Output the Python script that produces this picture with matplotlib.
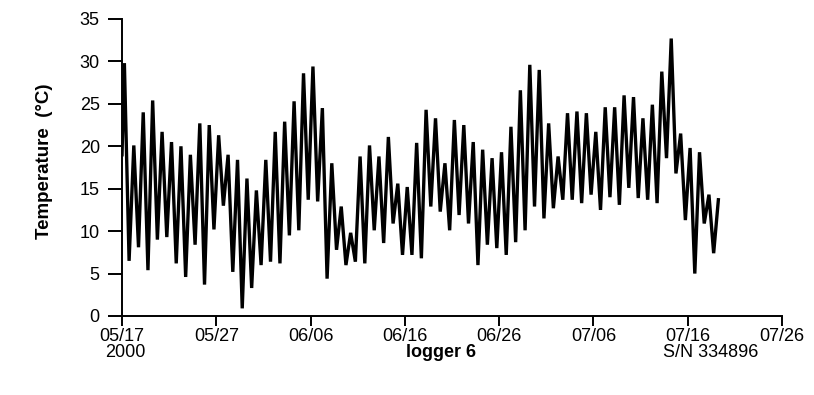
"""Logger 6 temperature trace, 05/17 - 07/19 2000."""
import matplotlib
matplotlib.use("Agg")
import numpy as np
import pandas as pd
from matplotlib import pyplot as plt

START = pd.Timestamp("2000-05-17")

# daily highs / lows (deg C), one per day starting 05/17
daily_max = [29.8, 20.1, 24.0, 25.4, 21.7, 20.5, 20.0, 19.0, 22.7, 22.5,
             21.3, 19.0, 18.4, 16.2, 14.8, 18.4, 21.7, 22.9, 25.3, 28.6,
             29.4, 24.5, 18.0, 12.9, 9.8, 18.8, 20.1, 18.8, 21.1, 15.6,
             15.2, 20.4, 24.3, 23.3, 18.0, 23.1, 22.5, 20.5, 19.6, 18.6,
             19.3, 22.3, 26.6, 29.6, 29.0, 22.7, 18.8, 23.9, 24.1, 23.9,
             21.7, 24.6, 24.6, 26.0, 25.8, 23.3, 24.9, 28.8, 32.7, 21.5,
             19.8, 19.3, 14.3, 13.7]
daily_min = [6.5, 8.1, 5.4, 9.0, 9.3, 6.2, 4.6, 8.4, 3.7, 10.2,
             13.0, 5.2, 0.9, 3.3, 6.0, 6.4, 6.2, 9.5, 10.1, 13.7,
             13.5, 4.4, 7.8, 6.0, 6.4, 6.2, 10.1, 8.6, 10.9, 7.2,
             7.2, 6.8, 12.9, 12.3, 10.1, 11.9, 10.9, 6.0, 8.4, 8.0,
             7.2, 8.7, 10.1, 12.9, 11.5, 12.7, 13.7, 13.7, 13.3, 14.3,
             12.5, 14.0, 13.1, 15.1, 13.9, 13.7, 13.3, 18.6, 16.8, 11.3,
             5.0, 10.9, 7.4]
first_reading = 19.0

tick_labels = ["05/17", "05/27", "06/06", "06/16", "06/26", "07/06", "07/16", "07/26"]
y_ticks = [0, 5, 10, 15, 20, 25, 30, 35]


def build_series():
    offsets = [0.0]
    temps = [first_reading]
    for day, hi in enumerate(daily_max):
        offsets.append(day + 0.25)
        temps.append(hi)
        if day < len(daily_min):
            offsets.append(day + 0.75)
            temps.append(daily_min[day])
    times = START + pd.to_timedelta(np.array(offsets), unit="D")
    return pd.Series(temps, index=times)


def main():
    plt.rcParams["font.family"] = ["Liberation Sans", "DejaVu Sans"]
    series = build_series()

    fig = plt.figure(figsize=(8.14, 3.95), dpi=100)
    ax = fig.add_axes([0.1499, 0.2, 0.8108, 0.7519])
    ax.plot(series.index, series.values, color="black", lw=2.4,
            solid_joinstyle="miter")

    tick_dates = [pd.Timestamp(f"2000-{t.replace('/', '-')}") for t in tick_labels]
    ax.set_xticks(tick_dates)
    ax.set_xticklabels(tick_labels, fontsize=13)
    ax.set_xlim(tick_dates[0], tick_dates[-1])
    ax.set_yticks(y_ticks)
    ax.set_yticklabels([str(v) for v in y_ticks], fontsize=13)
    ax.set_ylim(0, 35)

    for side in ["top", "right"]:
        ax.spines[side].set_visible(False)
    for side in ["left", "bottom"]:
        ax.spines[side].set_linewidth(1.4)
    ax.tick_params(axis="x", direction="out", length=7, width=1.4, pad=1.5)
    ax.tick_params(axis="y", direction="out", length=10, width=1.4, pad=6)

    ax.set_ylabel("Temperature  (°C)", fontsize=13.5, fontweight="bold", labelpad=22)
    ax.yaxis.set_label_coords(-0.105, 0.52)

    fig.text(0.154, 0.108, "2000", fontsize=13, ha="center", va="center")
    fig.text(0.542, 0.108, "logger 6", fontsize=13, fontweight="bold",
             ha="center", va="center")
    fig.text(0.873, 0.108, "S/N 334896", fontsize=13, ha="center", va="center")

    fig.savefig("out.png", dpi=100)
    plt.close(fig)


if __name__ == "__main__":
    main()
